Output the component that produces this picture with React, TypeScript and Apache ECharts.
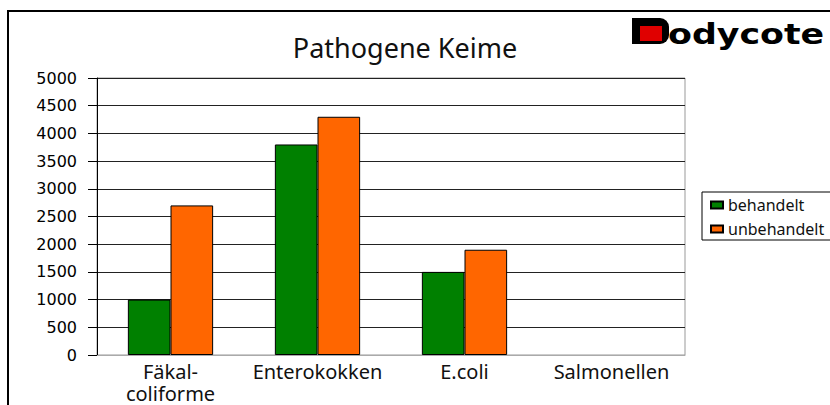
import React, { useEffect, useRef } from "react";
import * as echarts from "echarts";

const categories = ["Fäkal-\ncoliforme", "Enterokokken", "E.coli", "Salmonellen"];
const behandelt = [1000, 3800, 1500, 0];
const unbehandelt = [2700, 4300, 1900, 0];
const seriesNames = ["behandelt", "unbehandelt"];
const titleText = "Pathogene Keime";

const toBarData = (arr: number[]) =>
  arr.map((v) => (v === 0 ? { value: v, itemStyle: { borderWidth: 0 } } : v));

export default function App() {
  const ref = useRef<HTMLDivElement>(null);
  useEffect(() => {
    if (!ref.current) return;
    const chart = echarts.init(ref.current, null, { renderer: "svg" });
    chart.setOption({
      animation: false,
      backgroundColor: "#ffffff",
      title: {
        text: titleText,
        left: 400,
        top: 29,
        textAlign: "center",
        textStyle: { fontFamily: "Noto Sans", fontSize: 27, fontWeight: "normal", color: "#111" },
      },
      legend: {
        orient: "vertical",
        left: 702,
        top: 192,
        data: seriesNames,
        icon: "rect",
        itemWidth: 12,
        itemHeight: 7,
        itemGap: 8,
        padding: [5, 10, 3, 8],
        borderColor: "#000",
        borderWidth: 1,
        textStyle: { fontFamily: "Noto Sans", fontSize: 16, color: "#111", lineHeight: 16 },
      },
      grid: {
        left: 97,
        right: 145,
        top: 78,
        bottom: 50,
        show: true,
        borderColor: "#999",
        borderWidth: 1,
        containLabel: false,
      },
      xAxis: {
        type: "category",
        data: categories,
        axisLine: { show: true, lineStyle: { color: "#aaa", width: 1 } },
        axisTick: { show: false },
        axisLabel: {
          fontFamily: "Noto Sans",
          fontSize: 20,
          color: "#111",
          margin: 5,
          lineHeight: 22,
          interval: 0,
        },
      },
      yAxis: {
        type: "value",
        min: 0,
        max: 5000,
        interval: 500,
        axisLine: { show: true, lineStyle: { color: "#000", width: 1 } },
        axisTick: { show: true, length: 9, lineStyle: { color: "#000" } },
        axisLabel: {
          fontFamily: "DejaVu Sans",
          fontSize: 16,
          color: "#000",
          margin: 20,
          formatter: (v: number) => String(v),
        },
        splitLine: { show: true, lineStyle: { color: "#222", width: 1 } },
      },
      series: [
        {
          name: seriesNames[0],
          type: "bar",
          data: toBarData(behandelt),
          barGap: "0%",
          barCategoryGap: "42%",
          itemStyle: { color: "#008000", borderColor: "#000", borderWidth: 1 },
        },
        {
          name: seriesNames[1],
          type: "bar",
          data: toBarData(unbehandelt),
          barGap: "0%",
          barCategoryGap: "42%",
          itemStyle: { color: "#FF6600", borderColor: "#000", borderWidth: 1 },
        },
      ],
      graphic: [
        {
          type: "rect",
          shape: { x: 8, y: 11, width: 900, height: 500 },
          style: { fill: "none", stroke: "#000", lineWidth: 2 },
          silent: true,
        },
        {
          type: "rect",
          shape: { x: 632, y: 18, width: 37, height: 26, r: [0, 9, 9, 0] },
          style: { fill: "#000" },
        },
        {
          type: "rect",
          shape: { x: 640, y: 26, width: 22, height: 15 },
          style: { fill: "#e00000" },
        },
        {
          type: "text",
          x: 668,
          y: 49,
          scaleX: 1.2,
          style: {
            text: "odycote",
            fontFamily: "DejaVu Sans",
            fontWeight: "bold",
            fontSize: 29,
            fill: "#000",
            verticalAlign: "bottom",
          },
        },
      ],
    });
    return () => chart.dispose();
  }, []);
  return (
    <div
      ref={ref}
      style={{ position: "fixed", left: 0, top: 0, width: 830, height: 405 }}
    />
  );
}
